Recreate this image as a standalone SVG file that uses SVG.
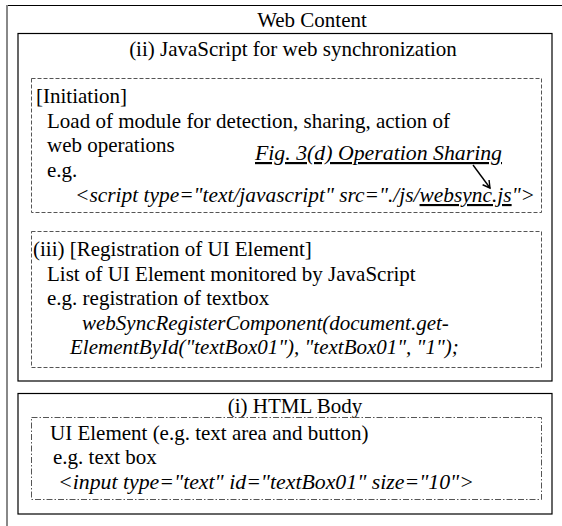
<svg xmlns="http://www.w3.org/2000/svg" width="562" height="526" viewBox="0 0 562 526" font-family="'Liberation Serif', 'DejaVu Serif', serif" font-size="21">
  <style>
    .it { font-style: italic; }
    .dash { fill: none; stroke: #555; stroke-width: 1; stroke-dasharray: 4 2; }
    .dashdot { fill: none; stroke: #555; stroke-width: 1; stroke-dasharray: 6 2 1.5 2; }
    .box { fill: none; stroke: #000; stroke-width: 1.2; }
    .conn { stroke: #000; stroke-width: 1.4; fill: none; }
  </style>
  <defs>
    <marker id="vhead" markerWidth="10" markerHeight="10" refX="8" refY="5" orient="auto" markerUnits="userSpaceOnUse">
      <path d="M1,1 L8,5 L1,9" fill="none" stroke="#000" stroke-width="1.4"/>
    </marker>
  </defs>
  <rect width="562" height="526" fill="#fff"/>

  <!-- outer container: Web Content (extends past the right and bottom edges) -->
  <g id="web-content">
    <line x1="7" y1="5.5" x2="562" y2="5.5" stroke="#000" stroke-width="1.2"/>
    <line x1="7" y1="5" x2="7" y2="526" stroke="#888" stroke-width="2"/>
    <text x="312" y="27" text-anchor="middle">Web Content</text>
  </g>

  <!-- (ii) JavaScript block -->
  <g id="javascript">
    <rect x="18" y="33.5" width="534" height="347.5" class="box"/>
    <text x="293" y="56" text-anchor="middle">(ii) JavaScript for web synchronization</text>
  </g>

  <!-- initiation section -->
  <g id="initiation">
    <rect x="31.5" y="78.5" width="510" height="134" class="dash"/>
    <text x="36" y="103">[Initiation]</text>
    <text x="47" y="128">Load of module for detection, sharing, action of</text>
    <text x="47" y="152">web operations</text>
    <text x="47" y="177">e.g.</text>
    <text x="75" y="202" class="it" font-size="21.4">&lt;script type="text/javascript" src="./js/<tspan text-decoration="underline">websync.js</tspan>"&gt;</text>
  </g>

  <!-- figure reference label -->
  <g id="fig-ref">
    <text x="255" y="160" class="it" font-size="21.8" text-decoration="underline">Fig. 3(d) Operation Sharing</text>
  </g>

  <!-- registration section -->
  <g id="registration">
    <rect x="31.5" y="231.5" width="510" height="136" class="dash"/>
    <text x="33" y="256">(iii) [Registration of UI Element]</text>
    <text x="47" y="281">List of UI Element monitored by JavaScript</text>
    <text x="47" y="305">e.g. registration of textbox</text>
    <text x="82" y="330" class="it">webSyncRegisterComponent(document.get-</text>
    <text x="70" y="354" class="it">ElementById("textBox01"), "textBox01", "1");</text>
  </g>

  <!-- (i) HTML body block -->
  <g id="html-body">
    <rect x="18" y="393.5" width="534" height="120.5" class="box"/>
    <text x="295" y="413" text-anchor="middle">(i) HTML Body</text>
    <rect x="31.5" y="417.5" width="510" height="82" class="dashdot"/>
    <text x="50" y="440">UI Element (e.g. text area and button)</text>
    <text x="53" y="464">e.g. text box</text>
    <text x="58" y="489" class="it" font-size="21.8">&lt;input type="text" id="textBox01" size="10"&gt;</text>
  </g>

  <!-- connectors -->
  <g id="connectors">
    <line x1="473" y1="165" x2="490" y2="188" class="conn" marker-end="url(#vhead)"/>
  </g>
</svg>
